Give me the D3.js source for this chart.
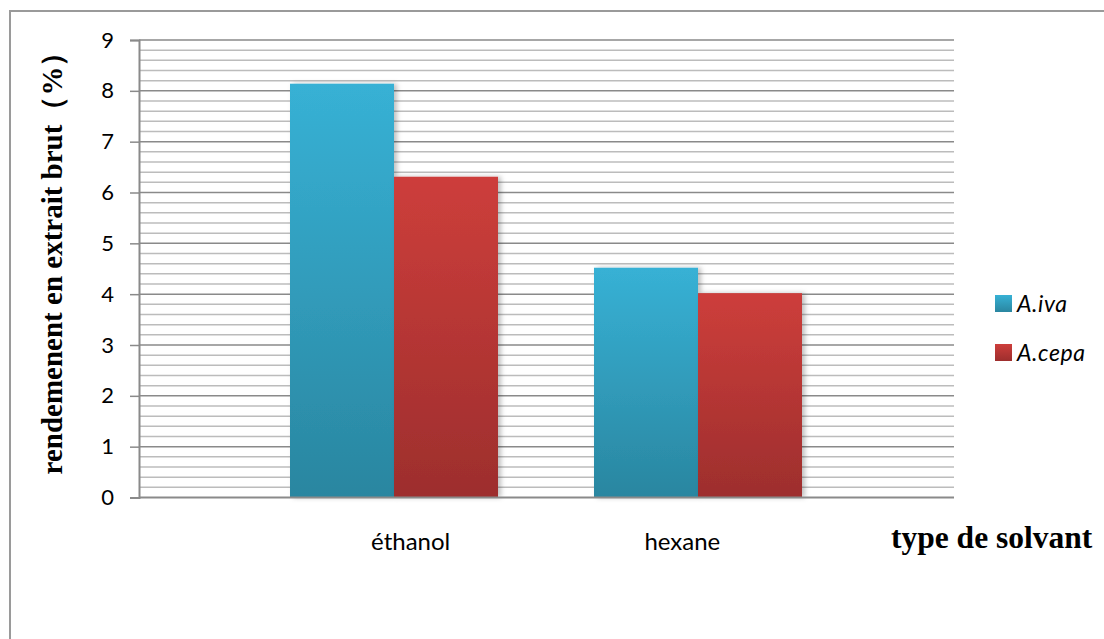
<!DOCTYPE html>
<html>
<head>
<meta charset="utf-8">
<script src="https://cdn.jsdelivr.net/npm/d3@7"></script>
<style>
	body { margin: 0; background: #fff; }
</style>
</head>
<body>
<svg id="chart"></svg>
<script>
// chart values
const categories = ["éthanol", "hexane"];
const seriesNames = ["A.iva", "A.cepa"];
const aIva = [8.14, 4.52];
const aCepa = [6.31, 4.02];
const yTickValues = [0, 1, 2, 3, 4, 5, 6, 7, 8, 9];

const colors = {
	"A.iva": ["#37b1d5", "#2a86a0"],
	"A.cepa": ["#cd3e3b", "#9d2e2d"]
};

let canvas = {"width": 1104, "height": 639,
	          "left": 139, "right": 954,
	          "top": 40, "bottom": 497.5};

const svg = d3.select("#chart")
	.attr("width", canvas.width)
	.attr("height", canvas.height);

const defs = svg.append("defs");
for (let s of seriesNames) {
	let g = defs.append("linearGradient")
		.attr("id", "grad-" + s.replace(".", ""))
		.attr("x1", 0).attr("y1", 0).attr("x2", 0).attr("y2", 1);
	g.append("stop").attr("offset", "0%").attr("stop-color", colors[s][0]);
	g.append("stop").attr("offset", "100%").attr("stop-color", colors[s][1]);
}
let shadow = defs.append("filter").attr("id", "shadow")
	.attr("x", "-10%").attr("y", "-10%").attr("width", "130%").attr("height", "120%");
shadow.append("feDropShadow")
	.attr("dx", 3).attr("dy", 0).attr("stdDeviation", 2.5)
	.attr("flood-color", "#000").attr("flood-opacity", 0.25);

// outer frame (open to the right and bottom)
svg.append("path")
	.attr("d", "M10,640 L10,11 L1110,11")
	.attr("fill", "none")
	.attr("stroke", "#9a9a9a")
	.attr("stroke-width", 2);

const yScale = d3.scaleLinear()
	.domain([0, 9])
	.range([canvas.bottom, canvas.top]);

// bars: group bands and series sub-bands
const x0 = d3.scaleBand()
	.domain(categories)
	.range([242, 850]);

const x1 = d3.scaleBand()
	.domain(seriesNames)
	.range([(x0.bandwidth() - 208) / 2, (x0.bandwidth() + 208) / 2]);

// label positions sit on an evenly spaced point scale
const xLabel = d3.scalePoint()
	.domain(["", ...categories, " "])
	.range([canvas.left, canvas.right]);

// minor gridlines every 0.2
const minorTicks = d3.range(0, 45).map(i => i / 5).filter(v => v % 1 !== 0);
svg.selectAll(".minor")
	.data(minorTicks)
	.join("line")
	.attr("class", "minor")
	.attr("x1", canvas.left).attr("x2", canvas.right)
	.attr("y1", d => yScale(d)).attr("y2", d => yScale(d))
	.attr("stroke", "#bcbcbc")
	.attr("stroke-width", 1.5);

svg.selectAll(".major")
	.data(yTickValues.filter(v => v > 0))
	.join("line")
	.attr("class", "major")
	.attr("x1", canvas.left).attr("x2", canvas.right)
	.attr("y1", d => yScale(d)).attr("y2", d => yScale(d))
	.attr("stroke", "#8a8a8a")
	.attr("stroke-width", 1.5);

let barData = [];
categories.forEach((c, i) => {
	barData.push({category: c, series: "A.iva", value: aIva[i]});
	barData.push({category: c, series: "A.cepa", value: aCepa[i]});
});

svg.selectAll(".bar")
	.data(barData)
	.join("rect")
	.attr("class", "bar")
	.attr("x", d => x0(d.category) + x1(d.series))
	.attr("y", d => yScale(d.value))
	.attr("width", x1.bandwidth())
	.attr("height", d => yScale(0) - yScale(d.value))
	.attr("fill", d => "url(#grad-" + d.series.replace(".", "") + ")")
	.attr("filter", "url(#shadow)");

// y axis
const yAxis = svg.append("g")
	.attr("transform", `translate(${canvas.left},0)`)
	.call(d3.axisLeft(yScale).tickValues(yTickValues).tickSize(9).tickPadding(16).tickFormat(d3.format("d")));
yAxis.select(".domain").attr("stroke", "#8a8a8a").attr("stroke-width", 2);
yAxis.selectAll(".tick line").attr("stroke", "#8a8a8a").attr("stroke-width", 1.5);
yAxis.selectAll(".tick text")
	.attr("font-family", "Lato, sans-serif")
	.attr("font-size", 22)
	.attr("fill", "#000");

// x axis line
svg.append("line")
	.attr("x1", canvas.left).attr("x2", canvas.right)
	.attr("y1", yScale(0)).attr("y2", yScale(0))
	.attr("stroke", "#8a8a8a")
	.attr("stroke-width", 2);

svg.selectAll(".cat")
	.data(categories)
	.join("text")
	.attr("class", "cat")
	.text(d => d)
	.attr("x", d => xLabel(d))
	.attr("y", 550)
	.attr("text-anchor", "middle")
	.attr("font-family", "Lato, sans-serif")
	.attr("font-size", 24);

// axis titles
svg.append("text")
	.text("type de solvant")
	.attr("x", 891)
	.attr("y", 548)
	.attr("font-family", "'Liberation Serif', 'Times New Roman', serif")
	.attr("font-weight", "bold")
	.attr("font-size", 31.5);

svg.append("text")
	.text("rendemenent en extrait brut（%）")
	.attr("transform", "translate(62,256) rotate(-90)")
	.attr("text-anchor", "middle")
	.attr("font-family", "'Liberation Serif', 'Times New Roman', serif")
	.attr("font-weight", "bold")
	.attr("font-size", 29);

// legend
const legend = svg.selectAll(".legend")
	.data(seriesNames)
	.join("g")
	.attr("class", "legend")
	.attr("transform", (d, i) => `translate(995,${295 + i * 49})`);

legend.append("rect")
	.attr("width", 17).attr("height", 17)
	.attr("fill", d => "url(#grad-" + d.replace(".", "") + ")");

legend.append("text")
	.text(d => d)
	.attr("x", 22)
	.attr("y", 17)
	.attr("font-family", "Lato, sans-serif")
	.attr("font-style", "italic")
	.attr("letter-spacing", 0.6)
	.attr("font-size", 23);
</script>
</body>
</html>
